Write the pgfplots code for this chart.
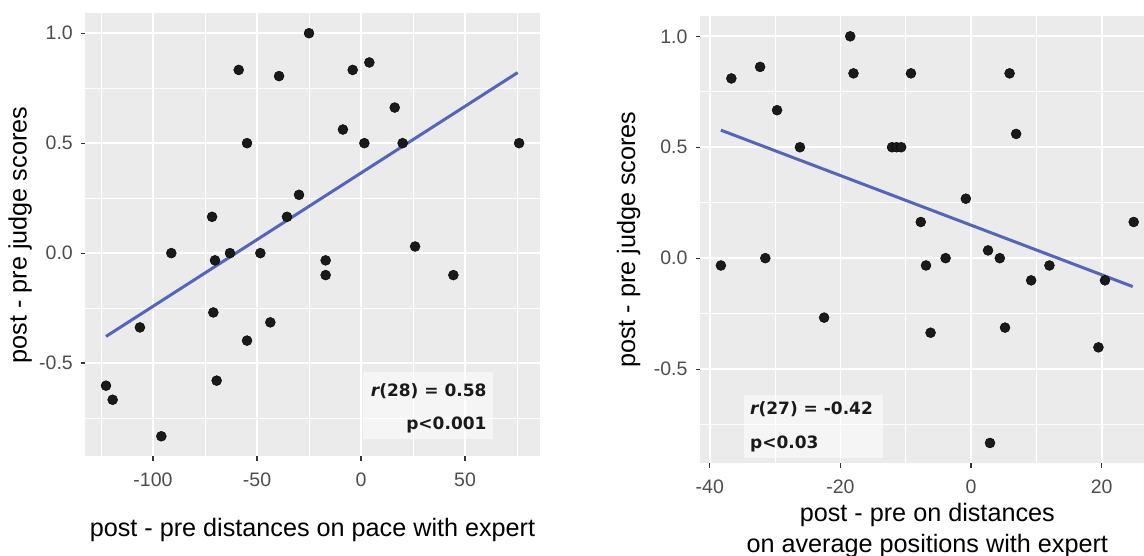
\documentclass[border=0pt]{standalone}
\usepackage{fontspec}
\setmainfont{Liberation Sans}
\newfontfamily\dejavu{DejaVu Sans}
\usepackage{pgfplots}
\pgfplotsset{compat=1.18}

\definecolor{panelbg}{HTML}{EBEBEB}
\definecolor{tickgray}{HTML}{4D4D4D}
\definecolor{tickmark}{HTML}{333333}
\definecolor{fitblue}{RGB}{85,101,186}
\definecolor{dot}{HTML}{1A1A1A}

\pgfplotsset{
  ggpanel/.style={
    scale only axis, anchor=south west,
    axis line style={draw=none},
    axis background/.style={fill=panelbg},
    grid=both,
    major grid style={white, line width=1.8pt},
    minor grid style={white, line width=1pt},
    xtick pos=bottom, ytick pos=left,
    tick align=outside,
    major tick length=4.5pt, minor tick length=0pt,
    major tick style={tickmark, line width=1.2pt},
    tick label style={font=\fontsize{19.5}{22}\selectfont, text=tickgray},
    xticklabel style={inner sep=0pt, anchor=north, yshift=-12pt},
    yticklabel style={inner sep=0pt, anchor=east, xshift=-7.9pt},
    ymin=-0.925, ymax=1.092,
    ytick={-0.5,0,0.5,1}, yticklabels={-0.5,0.0,0.5,1.0},
    minor ytick={-0.75,-0.25,0.25,0.75},
  },
  dots/.style={only marks, mark=*, mark size=5pt, mark options={fill=dot, draw=none}},
  fitline/.style={color=fitblue, line width=3pt, no marks},
}

\begin{document}
\begin{tikzpicture}
\useasboundingbox (0,0) rectangle (1144pt,556pt);

% left panel: pace
\begin{axis}[ggpanel,
  at={(85.4pt,99.5pt)}, width=454.3pt, height=443.5pt,
  xmin=-132.5, xmax=85.9,
  xtick={-100,-50,0,50}, xticklabels={-100,-50,0,50},
  minor xtick={-125,-75,-25,25,75},
]
\addplot[dots] coordinates {
(-25,1.0) (-58.8,0.833) (-39.4,0.805) (-4,0.833) (4,0.867) (16.2,0.662)
(-8.7,0.562) (-54.8,0.5) (1.6,0.5) (20,0.5) (76,0.5) (-29.8,0.265)
(-71.6,0.165) (-35.6,0.165) (-91.2,0) (-63,0) (-48.4,0) (-70.2,-0.033)
(-17,-0.033) (-17,-0.1) (26,0.03) (44.4,-0.1) (-106.3,-0.338) (-71,-0.27)
(-43.6,-0.315) (-54.8,-0.398) (-122.6,-0.603) (-119.4,-0.667) (-69.4,-0.58)
(-96,-0.833)
};
\addplot[fitline] coordinates {(-122.6,-0.379) (75.3,0.821)};
\end{axis}

% right panel: average positions
\begin{axis}[ggpanel,
  at={(700pt,92.6pt)}, width=454.6pt, height=447.5pt,
  xmin=-41.5, xmax=28.1,
  xtick={-40,-20,0,20}, xticklabels={-40,-20,0,20},
  minor xtick={-30,-10,10},
]
\addplot[dots] coordinates {
(-18.5,1.0) (-36.7,0.81) (-32.3,0.862) (-18,0.833) (-9.2,0.833) (5.9,0.833)
(-29.7,0.667) (6.9,0.56) (-26.2,0.5) (-12.1,0.5) (-11.4,0.5) (-10.7,0.5)
(-0.8,0.268) (-7.7,0.163) (24.9,0.163) (-38.3,-0.033) (-31.5,0) (-6.9,-0.033)
(-3.9,0) (2.6,0.035) (4.4,0) (12,-0.033) (9.2,-0.1) (20.5,-0.1)
(-22.5,-0.268) (-6.2,-0.336) (5.2,-0.313) (19.5,-0.402) (2.9,-0.833)
};
\addplot[fitline] coordinates {(-38.3,0.577) (24.75,-0.128)};
\end{axis}

% annotation boxes
\fill[white, fill opacity=0.55] (363.3pt,117pt) rectangle (493.3pt,184.3pt);
\node[anchor=base east, inner sep=0pt, text=dot] at (486.7pt,159.3pt)
  {\dejavu\bfseries\fontsize{17}{20}\selectfont\itshape r\upshape(28) = 0.58};
\node[anchor=base east, inner sep=0pt, text=dot] at (486.7pt,126pt)
  {\dejavu\bfseries\fontsize{17}{20}\selectfont p<0.001};

\fill[white, fill opacity=0.55] (744pt,97.7pt) rectangle (882.7pt,161pt);
\node[anchor=base west, inner sep=0pt, text=dot] at (750pt,141pt)
  {\dejavu\bfseries\fontsize{17}{20}\selectfont\itshape r\upshape(27) = -0.42};
\node[anchor=base west, inner sep=0pt, text=dot] at (750pt,107.7pt)
  {\dejavu\bfseries\fontsize{17}{20}\selectfont p<0.03};

% axis titles
\begin{scope}[every node/.style={inner sep=0pt, font=\fontsize{25.2}{29}\selectfont}]
\node[anchor=base, rotate=90] at (26.5pt,321pt) {post - pre judge scores};
\node[anchor=base, rotate=90] at (635pt,316.4pt) {post - pre judge scores};
\node[anchor=base] at (312.5pt,19.3pt) {post - pre distances on pace with expert};
\node[anchor=base] at (927.3pt,34.3pt) {post - pre on distances};
\node[anchor=base] at (927.3pt,3.7pt) {on average positions with expert};
\end{scope}
\end{tikzpicture}
\end{document}
